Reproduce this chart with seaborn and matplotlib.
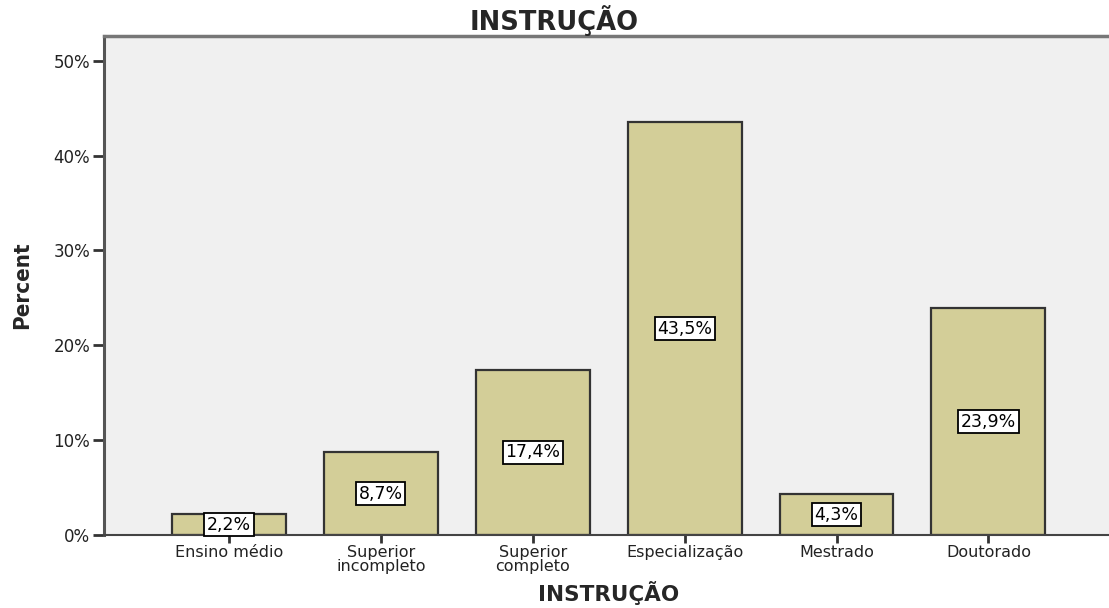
import matplotlib
matplotlib.use("Agg")
import matplotlib.pyplot as plt
import seaborn as sns
from matplotlib.ticker import FuncFormatter

# Data
categories = ["Ensino médio", "Superior\nincompleto", "Superior\ncompleto",
              "Especialização", "Mestrado", "Doutorado"]
percents = [2.2, 8.7, 17.4, 43.5, 4.3, 23.9]
yticks = [0, 10, 20, 30, 40, 50]

sns.set_style("white")
plt.rcParams["font.family"] = ["DejaVu Sans"]

fig = plt.figure(figsize=(11.09, 6.08), dpi=100)
ax = fig.add_axes([0.0938, 0.1201, 0.9098, 0.8207])
ax.set_facecolor("#F0F0F0")

sns.barplot(x=categories, y=percents, color="#D3CE98", edgecolor="#333333",
            linewidth=1.6, width=0.75, saturation=1, ax=ax)

# value labels in white boxes
labels = [f"{v:.1f}%".replace(".", ",") for v in percents]
ax.bar_label(ax.containers[0], labels=labels, label_type="center",
             fontsize=12.5, color="black",
             bbox=dict(boxstyle="square,pad=0.15", fc="white", ec="black", lw=1.3))

ax.set_xlim(-0.822, 5.82)
ax.set_ylim(0, 52.6)
ax.set_yticks(yticks)
ax.yaxis.set_major_formatter(FuncFormatter(lambda v, p: f"{v:.0f}%"))

ax.tick_params(axis="y", length=8, width=2, color="#333333", labelsize=12,
               labelcolor="#222222", pad=2, left=True)
ax.tick_params(axis="x", length=6, width=2, color="#333333", labelsize=11.5,
               labelcolor="#222222", pad=1, bottom=True)
for lbl in ax.get_xticklabels():
    lbl.set_linespacing(0.92)

for side in ["left", "top", "bottom", "right"]:
    ax.spines[side].set_visible(True)
ax.spines["left"].set_color("#555555")
ax.spines["left"].set_linewidth(2.2)
ax.spines["top"].set_color("#777777")
ax.spines["top"].set_linewidth(2.5)
ax.spines["bottom"].set_color("#444444")
ax.spines["bottom"].set_linewidth(1.5)

ax.set_xlabel("INSTRUÇÃO", fontsize=15.5, fontweight="bold", labelpad=5)
ax.set_ylabel("Percent", fontsize=16, fontweight="bold", labelpad=15,
              fontstretch="condensed",
              family=["Liberation Sans Narrow", "DejaVu Sans Condensed", "DejaVu Sans"])
fig.text(0.5, 0.967, "INSTRUÇÃO", ha="center", va="center",
         fontsize=18.5, fontweight="bold")

fig.savefig("out.png", dpi=100)
